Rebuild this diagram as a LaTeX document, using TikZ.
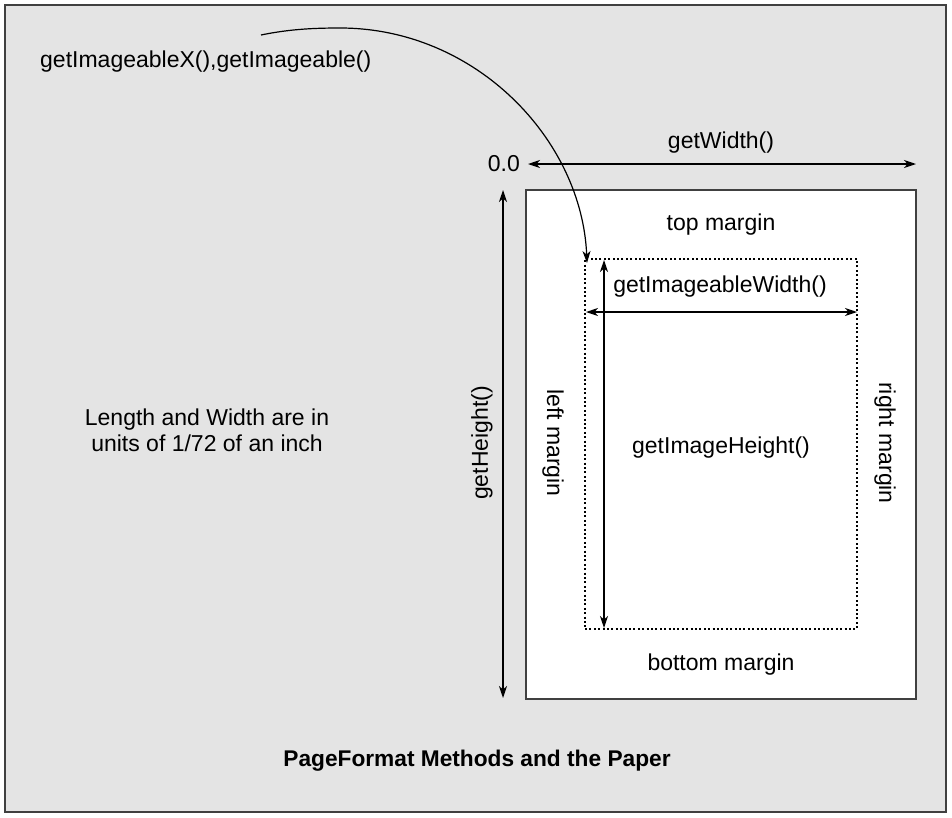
\documentclass[tikz,border=0pt]{standalone}
\usepackage{fontspec}
\setmainfont{Liberation Sans}
\usetikzlibrary{arrows.meta}
\definecolor{bg}{RGB}{228,228,228}
\definecolor{framec}{RGB}{64,64,64}
\begin{document}
\begin{tikzpicture}[x=1pt,y=-1pt,
  lbl/.style={font=\fontsize{23}{26}\selectfont, inner sep=0pt},
  tip/.tip={Stealth[length=12pt,width=8pt,inset=3.5pt]},
  dim/.style={line width=1.3pt, tip-tip},
  onearrow/.style={line width=1.2pt, -tip},
  dotbox/.style={draw, line width=1.3pt, dash pattern=on 2pt off 2.4pt, minimum width=272pt, minimum height=370pt, inner sep=0pt},
  paperbox/.style={draw=framec, line width=1.6pt, fill=white, minimum width=390pt, minimum height=509pt, inner sep=0pt}]
\useasboundingbox (0,0) rectangle (952,817);
\fill[white] (0,0) rectangle (952,817);
\draw[framec, line width=2pt, fill=bg] (5,5) rectangle (946,812);

% paper and imageable area
\node[paperbox] (paper) at (721,444.5) {};
\node[dotbox] (img) at (721,444) {};

% labels
\node[lbl, anchor=west] (src) at (40,62) {getImageableX(),getImageable()};
\node[lbl, anchor=east] (origin) at (520,164) {0.0};
\node[lbl] (gw) at (721,143) {getWidth()};
\node[lbl] (top) at (721,225) {top margin};
\node[lbl] (giw) at (720,287) {getImageableWidth()};
\node[lbl] (gih) at (721,448) {getImageHeight()};
\node[lbl] (bottom) at (721,665) {bottom margin};
\node[lbl, rotate=-90] (left) at (553,443) {left margin};
\node[lbl, rotate=-90] (right) at (885,443) {right margin};
\node[lbl, rotate=90] (gh) at (482,443) {getHeight()};
\node[lbl, align=center] (note) at (207,430) {Length and Width are in\\units of 1/72 of an inch};
\node[lbl, font=\fontsize{22.7}{26}\selectfont\bfseries] (title) at (477,761) {PageFormat Methods and the Paper};

% dimension arrows
\coordinate (w0) at (528,164);
\coordinate (w1) at (916,164);
\draw[dim] (w0) -- (w1);
\coordinate (h0) at (503,190);
\coordinate (h1) at (503,698);
\draw[dim] (h0) -- (h1);
\coordinate (iw0) at (586,312);
\coordinate (iw1) at (857,312);
\draw[dim] (iw0) -- (iw1);
\coordinate (ih0) at (604,260);
\coordinate (ih1) at (604,628);
\draw[dim] (ih0) -- (ih1);

% curved arrow
\coordinate (cstart) at (261,35);
\coordinate (cpeak) at (340,28);
\coordinate (cend) at (587,263);
\draw[onearrow] (cstart) .. controls (290,29) and (315,28) .. (cpeak)
   .. controls (476,28) and (582,140) .. (cend);
\end{tikzpicture}
\end{document}
